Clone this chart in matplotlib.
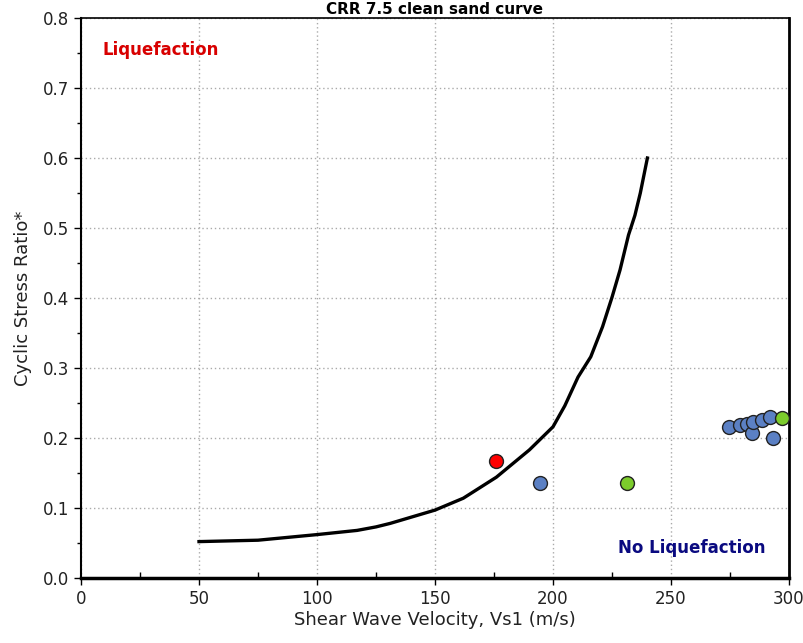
import matplotlib
matplotlib.use("Agg")
import matplotlib.pyplot as plt
from matplotlib.ticker import MultipleLocator, FormatStrFormatter

# CRR 7.5 clean sand curve
curve_vs = [50, 75, 100, 117, 125, 131, 150, 162, 176, 190, 200, 205, 210.6, 216, 221, 225, 228.4, 232, 234.7, 237, 240]
curve_crr = [0.052, 0.054, 0.062, 0.068, 0.073, 0.078, 0.097, 0.114, 0.144, 0.183, 0.216, 0.246, 0.287, 0.316, 0.359, 0.401, 0.44, 0.49, 0.518, 0.55, 0.6]

# data points
red_vs = [176]
red_csr = [0.167]
blue_vs = [194.5, 274.6, 279.2, 282, 284.3, 284.7, 288.6, 292, 293.2]
blue_csr = [0.136, 0.216, 0.219, 0.22, 0.207, 0.223, 0.226, 0.23, 0.2]
green_vs = [231.4, 297]
green_csr = [0.136, 0.229]

fig = plt.figure(figsize=(8.04, 6.43), dpi=100)
ax = fig.add_axes([81/804, 65/643, (789-81)/804, (578-18)/643])

ax.plot(curve_vs, curve_crr, color="black", lw=2.4, zorder=3, solid_joinstyle="round")
ax.plot(red_vs, red_csr, "o", ms=10, mfc="#ff0000", mec="#222222", mew=1, zorder=4)
ax.plot(blue_vs, blue_csr, "o", ms=10, mfc="#5b80c4", mec="#222222", mew=1, zorder=4)
ax.plot(green_vs, green_csr, "o", ms=10, mfc="#7ccc2c", mec="#222222", mew=1, zorder=5)

ax.set_xlim(0, 300)
ax.set_ylim(0, 0.8)
ax.xaxis.set_major_locator(MultipleLocator(50))
ax.xaxis.set_minor_locator(MultipleLocator(25))
ax.yaxis.set_major_locator(MultipleLocator(0.1))
ax.yaxis.set_minor_locator(MultipleLocator(0.05))
ax.yaxis.set_major_formatter(FormatStrFormatter("%.1f"))
ax.grid(True, which="major", color="#aaaaaa", linestyle=(0, (1, 2)), lw=1)
ax.set_axisbelow(True)

ax.tick_params(axis="both", which="major", direction="out", length=5, width=1, labelsize=12, colors="black", labelcolor="#222222")
ax.tick_params(axis="x", which="minor", direction="in", length=4, width=1)
ax.tick_params(axis="y", which="minor", direction="out", length=3, width=1)

for side, w in [("left", 1.5), ("bottom", 2.5), ("right", 2), ("top", 1.2)]:
    ax.spines[side].set_linewidth(w)
    ax.spines[side].set_color("black")

ax.set_xlabel("Shear Wave Velocity, Vs1 (m/s)", fontsize=13, labelpad=2, color="#222222")
ax.set_ylabel("Cyclic Stress Ratio*", fontsize=13, labelpad=8, color="#222222")

ax.text(9.3, 0.754, "Liquefaction", color="#d80000", fontsize=12, fontweight="bold", va="center", ha="left")
ax.text(290, 0.043, "No Liquefaction", color="#0a0a80", fontsize=12, fontweight="bold", va="center", ha="right")

fig.text(435/804, 1 - 14/643, "CRR 7.5 clean sand curve", ha="center", va="baseline", fontsize=11, fontweight="bold")

fig.savefig("out.png", dpi=100)
